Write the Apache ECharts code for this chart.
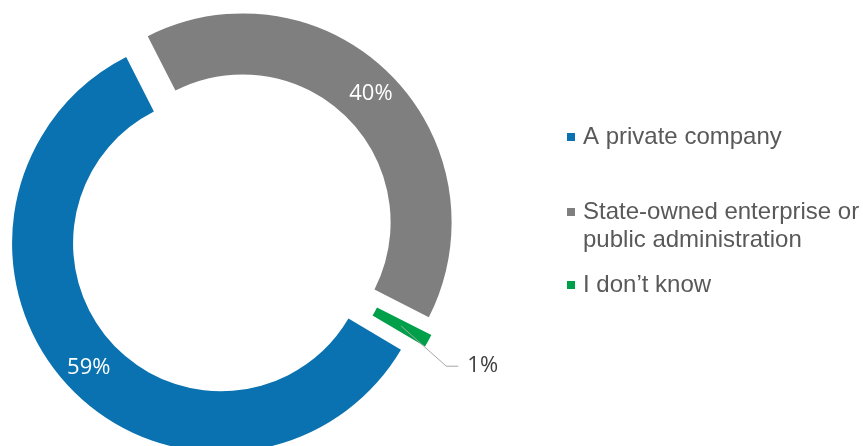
<!DOCTYPE html>
<html>
<head>
<meta charset="utf-8">
<script src="https://cdn.jsdelivr.net/npm/echarts@6/dist/echarts.min.js"></script>
<style>
  html, body { margin: 0; padding: 0; background: #ffffff; }
  #chart { width: 863px; height: 446px; }
</style>
</head>
<body>
<div id="chart"></div>
<script>
// Employer type, share of respondents (%)
const categories = [
  'A private company',
  'State-owned enterprise or\npublic administration',
  'I don’t know'
];
const shares = [59, 40, 1];
const colors = ['#0A72B0', '#7F7F7F', '#00A04B'];

const chart = echarts.init(document.getElementById('chart'), null, { renderer: 'canvas' });

// each legend entry is placed on its own so the spacing can differ;
// a leading blank line keeps the marker level with the first text line
function legendFor(i, top, leadBlank) {
  return {
    show: true,
    orient: 'vertical',
    left: 567,
    top: top,
    padding: 0,
    itemWidth: 8,
    itemHeight: 8,
    icon: 'rect',
    selectedMode: false,
    data: [categories[i]],
    formatter: name => (leadBlank ? '\n' : '') + name,
    textStyle: {
      fontFamily: 'Liberation Sans, Arial, sans-serif',
      fontSize: 24,
      lineHeight: 28,
      color: '#595959',
      padding: [0, 0, 0, 3]
    }
  };
}

// shared ring geometry: every slice pulled out from the centre
const ring = {
  type: 'pie',
  center: [232, 233],
  radius: [148, 209],
  startAngle: -30.6,
  clockwise: true,
  selectedMode: 'multiple',
  selectedOffset: 15,
  avoidLabelOverlap: false,
  emphasis: { disabled: true },
  select: { itemStyle: { borderWidth: 0 } }
};

const labelFont = { fontFamily: 'Open Sans, sans-serif', fontSize: 22 };

const option = {
  animation: false,
  backgroundColor: '#ffffff',
  legend: [
    legendFor(0, 123, false),
    legendFor(1, 170, true),
    legendFor(2, 271, false)
  ],
  series: [
    Object.assign({}, ring, {
      name: 'share',
      z: 2,
      label: Object.assign({
        show: true,
        position: 'inside',
        color: '#ffffff',
        formatter: p => (p.value >= 5 ? p.value + '%' : '')
      }, labelFont),
      labelLine: { show: false },
      data: categories.map((name, i) => ({
        name: name,
        value: shares[i],
        selected: true,
        itemStyle: { color: colors[i] }
      }))
    }),
    // same ring drawn clear on top, carrying the leader label of the thin slice
    Object.assign({}, ring, {
      name: 'share-callout',
      z: 3,
      silent: true,
      itemStyle: { color: 'rgba(0,0,0,0)' },
      label: Object.assign({
        show: true,
        position: 'outside',
        color: '#404040',
        distanceToLabelLine: -7,
        formatter: p => p.value + '%'
      }, labelFont),
      labelLine: {
        show: true,
        length: 52.5,
        length2: 0,
        lineStyle: { color: '#A6A6A6', width: 1, opacity: 1 }
      },
      labelLayout: function (params) {
        if (!params.labelLinePoints) return {};
        const a = params.labelLinePoints[0];
        const b = params.labelLinePoints[1];
        const dx = b[0] - a[0], dy = b[1] - a[1];
        const len = Math.hypot(dx, dy) || 1;
        const ux = dx / len, uy = dy / len;
        // start mid-ring, slant to the elbow, then run flat up to the text
        const start = [a[0] - ux * 31, a[1] - uy * 31];
        const end = [b[0] - 7 - 9, b[1]];
        const elbow = [end[0] - 12, b[1]];
        return { labelLinePoints: [start, elbow, end] };
      },
      data: categories.map((name, i) => ({
        name: name,
        value: shares[i],
        selected: true,
        label: { show: shares[i] < 5 },
        labelLine: { show: shares[i] < 5 }
      }))
    })
  ]
};

chart.setOption(option);
</script>
</body>
</html>
